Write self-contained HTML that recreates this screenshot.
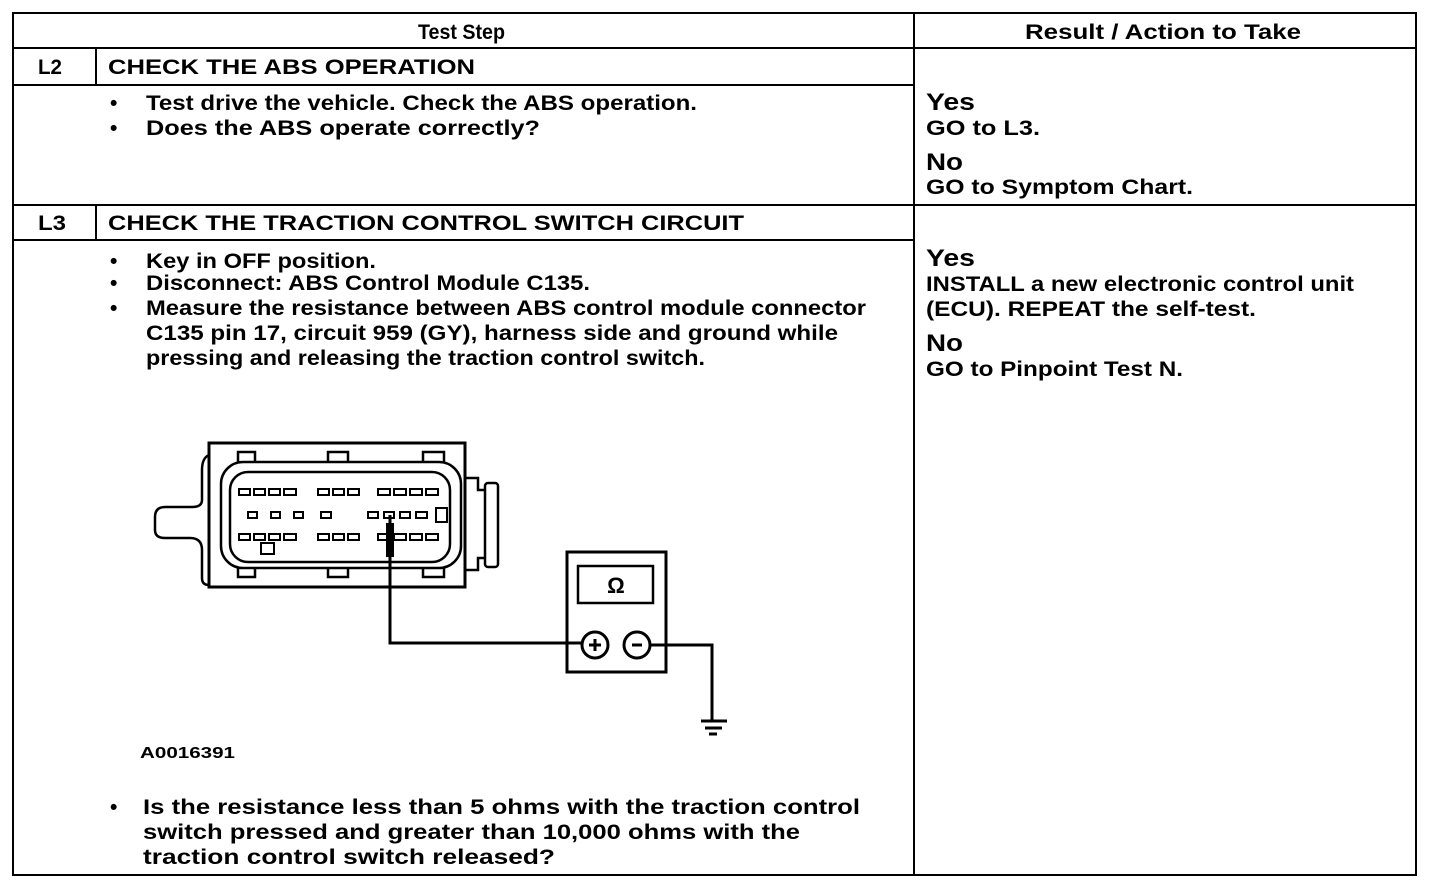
<!DOCTYPE html>
<html><head><meta charset="utf-8"><style>
html,body{margin:0;padding:0;background:#fff;}
svg{display:block;}
text{font-family:"Liberation Sans",Arial,sans-serif;font-weight:bold;fill:#000;font-size:21px;}
</style></head><body>
<svg width="1440" height="882" viewBox="0 0 1440 882" xmlns="http://www.w3.org/2000/svg">
<g stroke="#000" stroke-width="2" fill="none">
<rect x="13" y="13" width="1403" height="862"/>
<line x1="914" y1="13" x2="914" y2="875"/>
<line x1="13" y1="48" x2="1416" y2="48"/>
<line x1="13" y1="85" x2="914" y2="85"/>
<line x1="13" y1="205" x2="1416" y2="205"/>
<line x1="13" y1="240" x2="914" y2="240"/>
<line x1="96" y1="48" x2="96" y2="85"/>
<line x1="96" y1="205" x2="96" y2="240"/>
</g>
<text x="418" y="39" textLength="87" lengthAdjust="spacingAndGlyphs">Test Step</text>
<text x="1025" y="39" textLength="276" lengthAdjust="spacingAndGlyphs">Result / Action to Take</text>
<text x="38" y="74" textLength="24" lengthAdjust="spacingAndGlyphs">L2</text>
<text x="108" y="74" textLength="367" lengthAdjust="spacingAndGlyphs">CHECK THE ABS OPERATION</text>
<text x="110" y="110">•</text>
<text x="146" y="110" textLength="551" lengthAdjust="spacingAndGlyphs">Test drive the vehicle. Check the ABS operation.</text>
<text x="110" y="135">•</text>
<text x="146" y="135" textLength="394" lengthAdjust="spacingAndGlyphs">Does the ABS operate correctly?</text>
<text x="926" y="110" style="font-size:24px" textLength="49" lengthAdjust="spacingAndGlyphs">Yes</text>
<text x="926" y="135" textLength="114" lengthAdjust="spacingAndGlyphs">GO to L3.</text>
<text x="926" y="170" style="font-size:24px" textLength="37" lengthAdjust="spacingAndGlyphs">No</text>
<text x="926" y="194" textLength="267" lengthAdjust="spacingAndGlyphs">GO to  Symptom Chart.</text>
<text x="38" y="230" textLength="28" lengthAdjust="spacingAndGlyphs">L3</text>
<text x="108" y="230" textLength="636" lengthAdjust="spacingAndGlyphs">CHECK THE TRACTION CONTROL SWITCH CIRCUIT</text>
<text x="110" y="268">•</text>
<text x="146" y="268" textLength="230" lengthAdjust="spacingAndGlyphs">Key in OFF position.</text>
<text x="110" y="290">•</text>
<text x="146" y="290" textLength="444" lengthAdjust="spacingAndGlyphs">Disconnect: ABS Control Module C135.</text>
<text x="110" y="315">•</text>
<text x="146" y="315" textLength="720" lengthAdjust="spacingAndGlyphs">Measure the resistance between ABS control module connector</text>
<text x="146" y="340" textLength="692" lengthAdjust="spacingAndGlyphs">C135 pin 17, circuit 959 (GY), harness side and ground while</text>
<text x="146" y="365" textLength="559" lengthAdjust="spacingAndGlyphs">pressing and releasing the traction control switch.</text>
<text x="926" y="266" style="font-size:24px" textLength="49" lengthAdjust="spacingAndGlyphs">Yes</text>
<text x="926" y="291" textLength="428" lengthAdjust="spacingAndGlyphs">INSTALL a new electronic control unit</text>
<text x="926" y="316" textLength="330" lengthAdjust="spacingAndGlyphs">(ECU). REPEAT the self-test.</text>
<text x="926" y="351" style="font-size:24px" textLength="37" lengthAdjust="spacingAndGlyphs">No</text>
<text x="926" y="376" textLength="257" lengthAdjust="spacingAndGlyphs">GO to Pinpoint Test N.</text>
<text x="140" y="758" style="font-size:16px" textLength="95" lengthAdjust="spacingAndGlyphs">A0016391</text>
<text x="110" y="814">•</text>
<text x="143" y="814" textLength="717" lengthAdjust="spacingAndGlyphs">Is the resistance less than 5 ohms with the traction control</text>
<text x="143" y="839" textLength="657" lengthAdjust="spacingAndGlyphs">switch pressed and greater than 10,000 ohms with the</text>
<text x="143" y="864" textLength="412" lengthAdjust="spacingAndGlyphs">traction control switch released?</text>

<g stroke="#000" stroke-width="3" fill="none">
<rect x="209" y="443" width="256" height="144"/>
<path d="M209,455 Q202,458 202,470 L202,500 Q202,507 192,507 L165,507 Q155,507 155,517 L155,530 Q155,538 165,538 L190,538 Q202,538 202,550 L202,578 Q202,585 209,585" stroke-width="2.5"/>
<rect x="221" y="462" width="240" height="106" rx="22" stroke-width="2.5"/>
<rect x="230" y="472" width="220" height="90" rx="18" stroke-width="2.5"/>
<path d="M238,462 L238,452 L255,452 L255,462 M328,462 L328,452 L348,452 L348,462 M423,462 L423,452 L444,452 L444,462" stroke-width="2.5"/>
<path d="M238,568 L238,577 L255,577 L255,568 M328,568 L328,577 L348,577 L348,568 M423,568 L423,577 L444,577 L444,568" stroke-width="2.5"/>
<path d="M465,478 L478,478 L478,490 L485,490 M465,570 L478,570 L478,558 L485,558" stroke-width="2.5"/>
<rect x="485" y="483" width="13" height="84" rx="3" stroke-width="2.5"/>
<rect x="436" y="508" width="11" height="14" stroke-width="2"/>
<rect x="261" y="543" width="13" height="11" stroke-width="2"/>
</g>
<g stroke="#000" stroke-width="2" fill="none">
<rect x="239" y="489" width="11" height="6"/><rect x="254" y="489" width="11" height="6"/><rect x="269" y="489" width="11" height="6"/><rect x="284" y="489" width="12" height="6"/>
<rect x="318" y="489" width="11" height="6"/><rect x="333" y="489" width="11" height="6"/><rect x="348" y="489" width="11" height="6"/>
<rect x="378" y="489" width="12" height="6"/><rect x="394" y="489" width="12" height="6"/><rect x="410" y="489" width="12" height="6"/><rect x="426" y="489" width="12" height="6"/>
<rect x="248" y="512" width="9" height="6"/><rect x="271" y="512" width="9" height="6"/><rect x="294" y="512" width="9" height="6"/><rect x="321" y="512" width="10" height="6"/>
<rect x="368" y="512" width="10" height="6"/><rect x="384" y="512" width="10" height="6"/><rect x="400" y="512" width="10" height="6"/><rect x="416" y="512" width="11" height="6"/>
<rect x="239" y="534" width="11" height="6"/><rect x="254" y="534" width="11" height="6"/><rect x="269" y="534" width="11" height="6"/><rect x="284" y="534" width="12" height="6"/>
<rect x="318" y="534" width="11" height="6"/><rect x="333" y="534" width="11" height="6"/><rect x="348" y="534" width="11" height="6"/>
<rect x="378" y="534" width="12" height="6"/><rect x="394" y="534" width="12" height="6"/><rect x="410" y="534" width="12" height="6"/><rect x="426" y="534" width="12" height="6"/>
</g>
<g stroke="#000" fill="none">
<rect x="386" y="523" width="8" height="34" fill="#000" stroke="none"/>
<path d="M390,515 L390,643 L583,643" stroke-width="3"/>
<rect x="567" y="552" width="99" height="120" stroke-width="3"/>
<rect x="578" y="566" width="75" height="37" stroke-width="2.5"/>
<circle cx="595" cy="645" r="13" stroke-width="3"/>
<circle cx="637" cy="645" r="13" stroke-width="3"/>
<path d="M589,645 L601,645 M595,639 L595,651 M632,645 L642,645" stroke-width="3"/>
<path d="M650,645 L712,645 L712,720" stroke-width="3"/>
<path d="M701,721 L727,721 M705,728 L722,728 M709,734 L717,734" stroke-width="3"/>
</g>
<text x="616" y="593" text-anchor="middle" style="font-size:22px">Ω</text>
</svg>
</body></html>
